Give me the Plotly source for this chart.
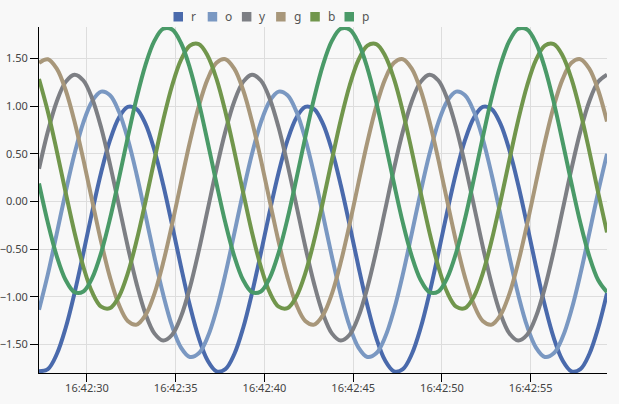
import pandas as pd
import plotly.graph_objects as go

start_time = "2024-01-01 16:42:27.300"
n_points = 65
times = pd.date_range(start_time, periods=n_points, freq="500ms")

series_names = ["r", "o", "y", "g", "b", "p"]

r_vals = [-1.782, -1.759, -1.603, -1.328, -0.962, -0.541, -0.105, 0.303, 0.642, 0.879, 0.992, 0.969, 0.813, 0.538, 0.172, -0.249, -0.685, -1.093, -1.432, -1.669,
          -1.782, -1.759, -1.603, -1.328, -0.962, -0.541, -0.105, 0.303, 0.642, 0.879, 0.992, 0.969, 0.813, 0.538, 0.172, -0.249, -0.685, -1.093, -1.432, -1.669,
          -1.782, -1.759, -1.603, -1.328, -0.962, -0.541, -0.105, 0.303, 0.642, 0.879, 0.992, 0.969, 0.813, 0.538, 0.172, -0.249, -0.685, -1.093, -1.432, -1.669,
          -1.782, -1.759, -1.603, -1.328, -0.962]
o_vals = [-1.137, -0.763, -0.337, 0.098, 0.499, 0.829, 1.053, 1.152, 1.114, 0.943, 0.657, 0.283, -0.143, -0.578, -0.979, -1.309, -1.533, -1.632, -1.594, -1.423,
          -1.137, -0.763, -0.337, 0.098, 0.499, 0.829, 1.053, 1.152, 1.114, 0.943, 0.657, 0.283, -0.143, -0.578, -0.979, -1.309, -1.533, -1.632, -1.594, -1.423,
          -1.137, -0.763, -0.337, 0.098, 0.499, 0.829, 1.053, 1.152, 1.114, 0.943, 0.657, 0.283, -0.143, -0.578, -0.979, -1.309, -1.533, -1.632, -1.594, -1.423,
          -1.137, -0.763, -0.337, 0.098, 0.499]
y_vals = [0.343, 0.735, 1.049, 1.254, 1.330, 1.269, 1.078, 0.775, 0.389, -0.041, -0.473, -0.865, -1.179, -1.384, -1.460, -1.399, -1.208, -0.905, -0.519, -0.089,
          0.343, 0.735, 1.049, 1.254, 1.330, 1.269, 1.078, 0.775, 0.389, -0.041, -0.473, -0.865, -1.179, -1.384, -1.460, -1.399, -1.208, -0.905, -0.519, -0.089,
          0.343, 0.735, 1.049, 1.254, 1.330, 1.269, 1.078, 0.775, 0.389, -0.041, -0.473, -0.865, -1.179, -1.384, -1.460, -1.399, -1.208, -0.905, -0.519, -0.089,
          0.343, 0.735, 1.049, 1.254, 1.330]
g_vals = [1.454, 1.492, 1.393, 1.169, 0.839, 0.438, 0.003, -0.423, -0.797, -1.083, -1.254, -1.292, -1.193, -0.969, -0.639, -0.238, 0.197, 0.623, 0.997, 1.283,
          1.454, 1.492, 1.393, 1.169, 0.839, 0.438, 0.003, -0.423, -0.797, -1.083, -1.254, -1.292, -1.193, -0.969, -0.639, -0.238, 0.197, 0.623, 0.997, 1.283,
          1.454, 1.492, 1.393, 1.169, 0.839, 0.438, 0.003, -0.423, -0.797, -1.083, -1.254, -1.292, -1.193, -0.969, -0.639, -0.238, 0.197, 0.623, 0.997, 1.283,
          1.454, 1.492, 1.393, 1.169, 0.839]
b_vals = [1.285, 0.941, 0.531, 0.095, -0.325, -0.686, -0.955, -1.104, -1.120, -0.999, -0.755, -0.411, -0.001, 0.435, 0.855, 1.216, 1.485, 1.634, 1.650, 1.529,
          1.285, 0.941, 0.531, 0.095, -0.325, -0.686, -0.955, -1.104, -1.120, -0.999, -0.755, -0.411, -0.001, 0.435, 0.855, 1.216, 1.485, 1.634, 1.650, 1.529,
          1.285, 0.941, 0.531, 0.095, -0.325, -0.686, -0.955, -1.104, -1.120, -0.999, -0.755, -0.411, -0.001, 0.435, 0.855, 1.216, 1.485, 1.634, 1.650, 1.529,
          1.285, 0.941, 0.531, 0.095, -0.325]
p_vals = [0.188, -0.225, -0.573, -0.824, -0.952, -0.944, -0.802, -0.539, -0.182, 0.236, 0.672, 1.085, 1.433, 1.684, 1.812, 1.804, 1.662, 1.399, 1.042, 0.624,
          0.188, -0.225, -0.573, -0.824, -0.952, -0.944, -0.802, -0.539, -0.182, 0.236, 0.672, 1.085, 1.433, 1.684, 1.812, 1.804, 1.662, 1.399, 1.042, 0.624,
          0.188, -0.225, -0.573, -0.824, -0.952, -0.944, -0.802, -0.539, -0.182, 0.236, 0.672, 1.085, 1.433, 1.684, 1.812, 1.804, 1.662, 1.399, 1.042, 0.624,
          0.188, -0.225, -0.573, -0.824, -0.952]

series_values = [r_vals, o_vals, y_vals, g_vals, b_vals, p_vals]

# ---- styling ----
colors = ["#4a6aac", "#7a98c2", "#7d7f84", "#a8977a", "#71964c", "#4a9a68"]
BG = "#f8f8f8"
FONT = "Segoe UI, Noto Sans, Open Sans, sans-serif"
W, H = 619, 404
M = dict(l=39, r=12, t=27, b=31, autoexpand=False)

fig = go.Figure()
for name, vals, col in zip(series_names, series_values, colors):
    fig.add_trace(go.Scatter(
        x=times, y=vals, name=name, mode="lines",
        line=dict(color=col, width=4, shape="spline", smoothing=1.0),
        showlegend=False, hoverinfo="skip", cliponaxis=True,
    ))

# custom legend (square swatches + labels) above the plot
plot_w = W - M["l"] - M["r"]
plot_h = H - M["t"] - M["b"]
def px_to_paper_x(px):
    return (px - M["l"]) / plot_w
def px_to_paper_y(py):
    return (H - M["b"] - py) / plot_h

shapes = []
annotations = []
for i, (name, col) in enumerate(zip(series_names, colors)):
    sx = 173.5 + 34.2 * i
    shapes.append(dict(type="rect", xref="paper", yref="paper",
                       x0=px_to_paper_x(sx), x1=px_to_paper_x(sx + 9.5),
                       y0=px_to_paper_y(21.5), y1=px_to_paper_y(12.0),
                       fillcolor=col, line=dict(width=0)))
    annotations.append(dict(text=name, xref="paper", yref="paper",
                            x=px_to_paper_x(sx + 15.5), y=px_to_paper_y(16.5),
                            xanchor="left", yanchor="middle", showarrow=False,
                            font=dict(family=FONT, size=12, color="#555555")))

fig.update_layout(
    width=W, height=H, margin=M,
    paper_bgcolor=BG, plot_bgcolor=BG,
    font=dict(family=FONT, size=11, color="#444444"),
    shapes=shapes, annotations=annotations,
    showlegend=False,
)
fig.update_xaxes(
    type="date", automargin=False,
    range=["2024-01-01 16:42:27.3", "2024-01-01 16:42:59.3"],
    dtick=5000, tick0="2024-01-01 16:42:30", tickformat="%H:%M:%S",
    showgrid=True, gridcolor="#dddddd", gridwidth=1,
    showline=True, linecolor="#000000", linewidth=1,
    ticks="outside", ticklen=8, tickcolor="#000000",
    ticklabelstandoff=-3,
    zeroline=False,
)
fig.update_yaxes(
    automargin=False,
    range=[-1.80, 1.83],
    dtick=0.5, tick0=0, tickformat=".2f",
    showgrid=True, gridcolor="#dddddd", gridwidth=1,
    showline=True, linecolor="#000000", linewidth=1,
    ticks="outside", ticklen=8, tickcolor="#000000",
    zeroline=False,
)

fig.write_html(
    "out.html",
    config={"displayModeBar": False},
    post_script="document.body.style.margin='0';document.body.style.background='%s';" % BG,
)
